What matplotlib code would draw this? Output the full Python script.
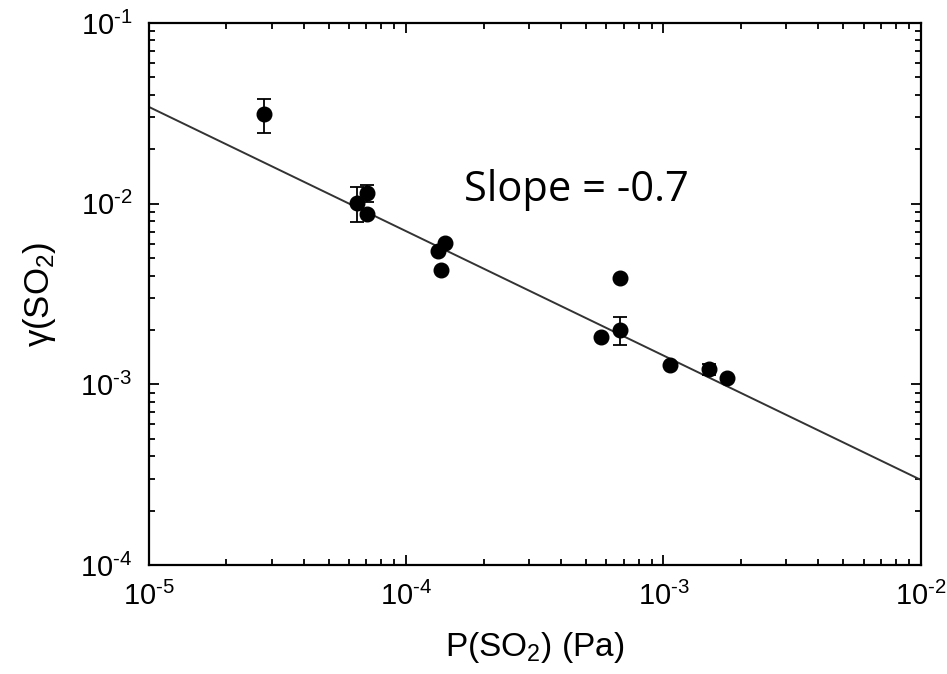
import numpy as np
import matplotlib
matplotlib.use("Agg")
import matplotlib.pyplot as plt
from matplotlib.ticker import LogLocator, FuncFormatter, NullFormatter

plt.rcParams['font.family'] = ['Liberation Sans', 'DejaVu Sans']
plt.rcParams['mathtext.fontset'] = 'custom'
plt.rcParams['mathtext.rm'] = 'Liberation Sans'
plt.rcParams['mathtext.it'] = 'Liberation Sans:italic'

# measured points, P(SO2) in Pa and uptake coefficient
p_so2 = [2.80e-5, 6.44e-5, 7.06e-5, 7.06e-5, 1.41e-4, 1.33e-4, 1.36e-4,
         6.75e-4, 6.75e-4, 5.74e-4, 1.064e-3, 1.50e-3, 1.76e-3]
gamma = [0.0313, 0.0101, 0.01146, 0.00877, 0.00606, 0.00547, 0.0043,
         0.00388, 0.0020, 0.00183, 0.00128, 0.00122, 0.00108]
err_lo = [0.0067, 0.0022, 0.0012, 0.0, 0.0, 0.0, 0.0,
          0.0, 0.00035, 0.0, 0.0, 0.00009, 0.0]
err_hi = [0.0067, 0.0023, 0.0012, 0.0, 0.0, 0.0, 0.0,
          0.0, 0.00036, 0.0, 0.0, 0.00007, 0.0]

# fitted line end points
fit_x = [1e-5, 1e-2]
fit_y = [0.0343, 2.96e-4]

fig = plt.figure(figsize=(9.47, 6.74), dpi=100)
ax = fig.add_axes([0.1573, 0.1617, 0.815, 0.8042])

ax.plot(fit_x, fit_y, color='#333333', lw=1.4)
ax.errorbar(p_so2, gamma, yerr=[err_lo, err_hi], fmt='o', color='black',
            ms=10.5, capsize=5, elinewidth=1.3, capthick=1.3)

ax.set_xscale('log')
ax.set_yscale('log')
ax.set_xlim(1e-5, 1e-2)
ax.set_ylim(1e-4, 1e-1)


def sci(v, pos):
    e = int(round(np.log10(v)))
    return r'$\mathregular{10^{\text{-}%d}}$' % abs(e)


for a in (ax.xaxis, ax.yaxis):
    a.set_major_locator(LogLocator(base=10))
    a.set_minor_locator(LogLocator(base=10, subs=np.arange(2, 10)))
    a.set_major_formatter(FuncFormatter(sci))
    a.set_minor_formatter(NullFormatter())

ax.tick_params(which='both', direction='in', top=True, right=True,
               width=1.3, labelsize=21, colors='black')
ax.tick_params(which='major', length=7)
ax.tick_params(which='minor', length=4)
ax.tick_params(axis='x', pad=12)
ax.tick_params(axis='y', pad=12)
for s in ax.spines.values():
    s.set_linewidth(1.6)

ax.set_xlabel('P(SO$_2$) (Pa)', fontsize=24, labelpad=14)
ax.set_ylabel('γ(SO$_2$)', fontsize=25, labelpad=16)

ax.text(1.67e-4, 0.0119, 'Slope = -0.7', fontsize=30, family='Open Sans',
        va='center', ha='left')

fig.savefig('out.png', dpi=100)
